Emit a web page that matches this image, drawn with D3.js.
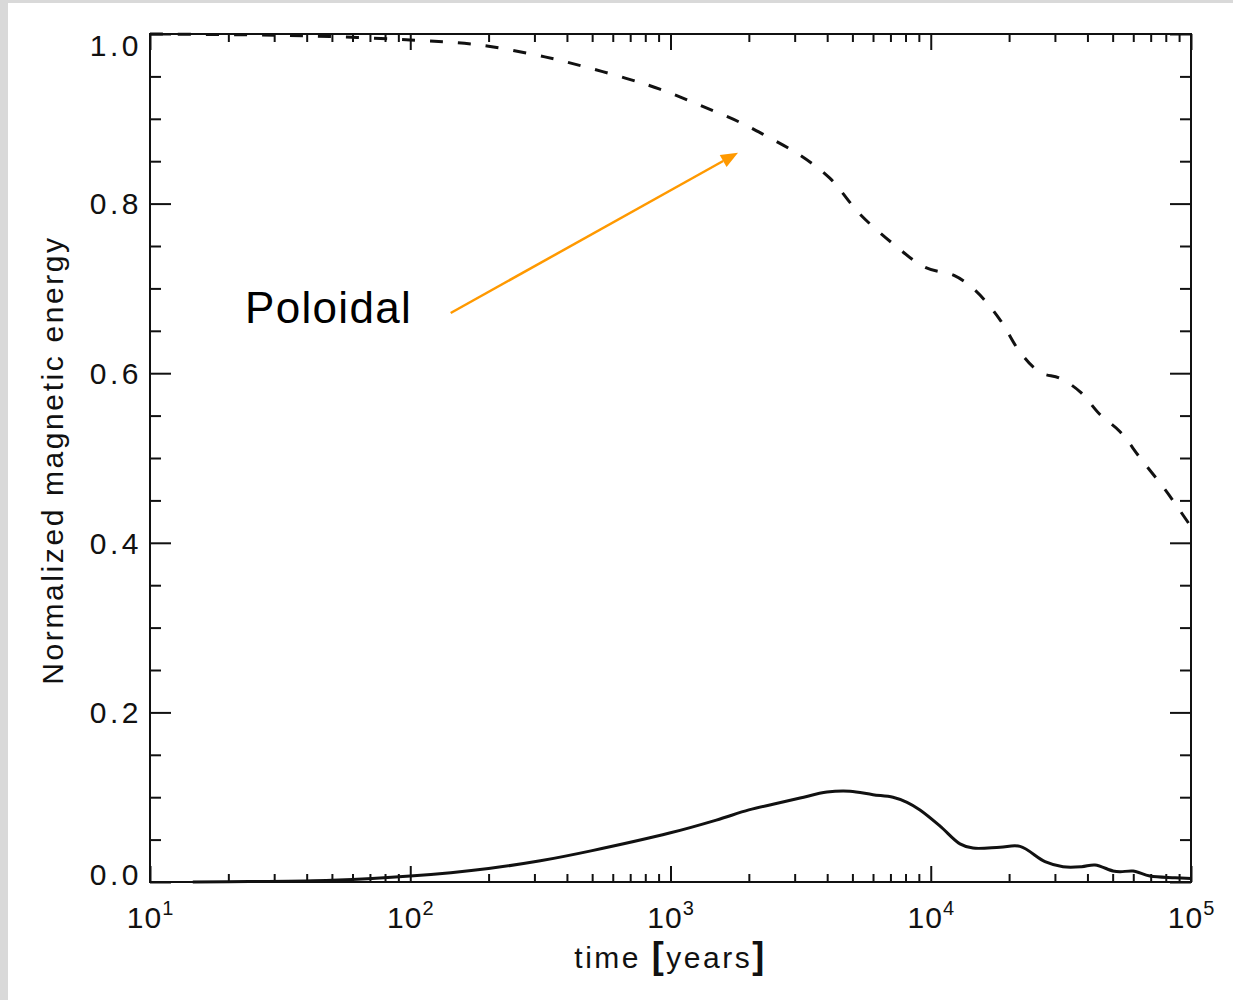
<!DOCTYPE html>
<html>
<head>
<meta charset="utf-8">
<script src="https://cdn.jsdelivr.net/npm/d3@7"></script>
<style>
  html, body { margin: 0; padding: 0; background: #fff; }
  svg { display: block; }
  text { font-family: "Liberation Sans", Arial, Helvetica, sans-serif; fill: #111; }
</style>
</head>
<body>
<svg id="chart" width="1233" height="1000"></svg>
<script>
// ---- data ----
const poloidalTime = [10, 24.2, 49.2, 100, 185, 329, 447, 670, 910, 1297, 1843, 2290, 3148, 4095, 5330, 7270, 9480, 12340, 14800, 18460, 22030, 26300, 31400, 37500, 44800, 53400, 63800, 79800, 100000];
const poloidalEnergy = [1.0, 0.999, 0.997, 0.993, 0.987, 0.973, 0.963, 0.948, 0.935, 0.916, 0.896, 0.881, 0.857, 0.830, 0.788, 0.751, 0.725, 0.715, 0.698, 0.663, 0.625, 0.601, 0.594, 0.578, 0.551, 0.531, 0.500, 0.462, 0.419];

const toroidalTime = [14.6, 24, 50, 100, 200, 316, 500, 1000, 1500, 2000, 2500, 3148, 3993, 4894, 5998, 7160, 8107, 9091, 10860, 12950, 14530, 18460, 22030, 27480, 32220, 38000, 42770, 50150, 53350, 59840, 69500, 86900, 100000];
const toroidalEnergy = [0.0, 0.0005, 0.002, 0.007, 0.016, 0.025, 0.037, 0.058, 0.073, 0.085, 0.092, 0.099, 0.106, 0.107, 0.103, 0.100, 0.094, 0.085, 0.066, 0.045, 0.040, 0.041, 0.042, 0.024, 0.018, 0.018, 0.020, 0.013, 0.012, 0.013, 0.007, 0.005, 0.004];

const xMajorTicks = [10, 100, 1000, 10000, 100000];
const xTickExponents = ["1", "2", "3", "4", "5"];
const yMajorTicks = [0, 0.2, 0.4, 0.6, 0.8, 1.0];
const yTickLabels = ["0.0", "0.2", "0.4", "0.6", "0.8", "1.0"];

const annotationText = "Poloidal";
const annotationTextPos = [23.2, 0.659];
const arrowFrom = [143, 0.671];
const arrowTo = [1817, 0.86];

const xTitle = ["time ", "[", "years", "]"];
const yTitle = "Normalized magnetic energy";

// ---- layout ----
const svg = d3.select("#chart");
const L = 150, R = 1191, T = 34, B = 882;
const x = d3.scaleLog().domain([10, 1e5]).range([L, R]);
const y = d3.scaleLinear().domain([0, 1]).range([B, T]);

// gray page border
svg.append("rect").attr("x", 0).attr("y", 0).attr("width", 1233).attr("height", 3).attr("fill", "#d9d9d9");
svg.append("rect").attr("x", 0).attr("y", 0).attr("width", 8).attr("height", 1000).attr("fill", "#d9d9d9");

// minor ticks
const xMinor = [];
for (let d = 10; d < 1e5; d *= 10) for (let k = 2; k <= 9; k++) xMinor.push(d * k);
const yMinor = d3.range(0, 1.0001, 0.05).map(v => +v.toFixed(2)).filter(v => !yMajorTicks.includes(v));

function styleAxis(g) {
  g.select(".domain").remove();
  g.selectAll(".tick line").attr("stroke", "#111").attr("stroke-width", 2);
  g.selectAll(".tick text").remove();
}
const axes = [
  [d3.axisBottom(x).tickValues(xMajorTicks).tickSize(-16), `translate(0,${B})`],
  [d3.axisBottom(x).tickValues(xMinor).tickSize(-8), `translate(0,${B})`],
  [d3.axisTop(x).tickValues(xMajorTicks).tickSize(-16), `translate(0,${T})`],
  [d3.axisTop(x).tickValues(xMinor).tickSize(-8), `translate(0,${T})`],
  [d3.axisLeft(y).tickValues(yMajorTicks).tickSize(-21), `translate(${L},0)`],
  [d3.axisLeft(y).tickValues(yMinor).tickSize(-11), `translate(${L},0)`],
  [d3.axisRight(y).tickValues(yMajorTicks).tickSize(-21), `translate(${R},0)`],
  [d3.axisRight(y).tickValues(yMinor).tickSize(-11), `translate(${R},0)`]
];
axes.forEach(([ax, tr]) => {
  svg.append("g").attr("transform", tr).call(ax.tickFormat("")).call(styleAxis);
});

// frame
svg.append("rect").attr("x", L).attr("y", T).attr("width", R - L).attr("height", B - T)
  .attr("fill", "none").attr("stroke", "#111").attr("stroke-width", 2);

// y tick labels
svg.append("g").selectAll("text").data(yMajorTicks).join("text")
  .attr("x", L - 8)
  .attr("y", d => y(d) + (d === 1 ? 11 : d === 0 ? -8 : 0))
  .attr("dy", "0.36em")
  .attr("text-anchor", "end")
  .attr("font-size", 30)
  .attr("letter-spacing", 3.5)
  .text((d, i) => yTickLabels[i]);

// x tick labels 10^n
const xl = svg.append("g").selectAll("text").data(xMajorTicks).join("text")
  .attr("x", d => x(d))
  .attr("y", 928)
  .attr("text-anchor", "middle")
  .attr("font-size", 30);
xl.append("tspan").attr("letter-spacing", 1).text("10");
xl.append("tspan").attr("font-size", 20).attr("dy", -13).text((d, i) => xTickExponents[i]);

// axis titles
const xt = svg.append("text").attr("x", (L + R) / 2).attr("y", 968)
  .attr("text-anchor", "middle").attr("font-size", 30).attr("letter-spacing", 2.5);
xTitle.forEach(s => {
  const ts = xt.append("tspan").text(s);
  if (s === "[" || s === "]") ts.attr("font-weight", "bold").attr("font-size", 36);
});

svg.append("text")
  .attr("transform", `translate(63,${(T + B) / 2 + 2}) rotate(-90)`)
  .attr("text-anchor", "middle")
  .attr("font-size", 30)
  .attr("letter-spacing", 2.6)
  .text(yTitle);

// curves
const line = d3.line().x(d => x(d[0])).y(d => y(d[1])).curve(d3.curveCatmullRom.alpha(0.5));
svg.append("path")
  .datum(poloidalTime.map((t, i) => [t, poloidalEnergy[i]]))
  .attr("d", line).attr("fill", "none").attr("stroke", "#111")
  .attr("stroke-width", 3).attr("stroke-dasharray", "13,15");
svg.append("path")
  .datum(toroidalTime.map((t, i) => [t, toroidalEnergy[i]]))
  .attr("d", line).attr("fill", "none").attr("stroke", "#111")
  .attr("stroke-width", 3);

// annotation
svg.append("text").attr("x", x(annotationTextPos[0])).attr("y", y(annotationTextPos[1]))
  .attr("font-size", 44).attr("letter-spacing", 1.3).style("fill", "#000").text(annotationText);

const x0 = x(arrowFrom[0]), y0 = y(arrowFrom[1]), x1 = x(arrowTo[0]), y1 = y(arrowTo[1]);
const ang = Math.atan2(y1 - y0, x1 - x0);
const hl = 17, hw = 7;
const bx = x1 - hl * Math.cos(ang), by = y1 - hl * Math.sin(ang);
svg.append("line").attr("x1", x0).attr("y1", y0).attr("x2", bx).attr("y2", by)
  .attr("stroke", "#ff9900").attr("stroke-width", 2.5);
svg.append("path")
  .attr("d", `M${x1},${y1}L${bx + hw * Math.sin(ang)},${by - hw * Math.cos(ang)}L${bx - hw * Math.sin(ang)},${by + hw * Math.cos(ang)}Z`)
  .attr("fill", "#ff9900");
</script>
</body>
</html>
